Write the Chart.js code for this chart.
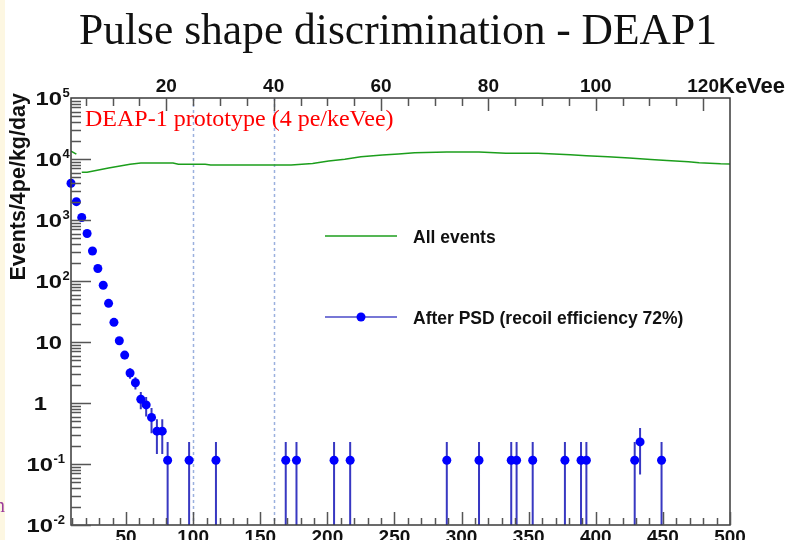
<!DOCTYPE html>
<html>
<head>
<meta charset="utf-8">
<title>Pulse shape discrimination - DEAP1</title>
<script src="https://cdn.jsdelivr.net/npm/chart.js@4.4.0/dist/chart.umd.min.js"></script>
<style>
  html, body { margin: 0; padding: 0; background: #fff; }
  #wrap { width: 787px; height: 540px; position: relative; }
</style>
</head>
<body>
<div id="wrap"><canvas id="psdChart" width="787" height="540"></canvas></div>
<script>
// ---- data ----
// x in photoelectrons (4 pe bins), y in events/4pe/kg/day
const psdPe   = [9, 13, 17, 21, 25, 29, 33, 37, 41, 45, 49, 53, 57, 61, 65, 69, 73, 77, 81,
                 97, 117, 169, 177, 205, 217, 289, 313, 337, 341, 353, 377, 389, 393, 429, 433, 449];
const psdRate = [4000, 2000, 1100, 600, 310, 160, 85, 43, 21, 10.5, 6.1, 3.1, 2.15, 1.15, 0.93, 0.58, 0.345, 0.345, 0.115,
                 0.115, 0.115, 0.115, 0.115, 0.115, 0.115, 0.115, 0.115, 0.115, 0.115, 0.115, 0.115, 0.115, 0.115, 0.115, 0.23, 0.115];
const psdErrLo = [3980, 1990, 1090, 592, 304, 156, 82, 41, 19.5, 9.4, 5.2, 2.5, 1.66, 0.79, 0.60, 0.32, 0.146, 0.146, 0,
                  0, 0, 0, 0, 0, 0, 0, 0, 0, 0, 0, 0, 0, 0, 0, 0.067, 0];
const psdErrHi = [4020, 2010, 1110, 608, 316, 164, 88, 45, 22.5, 11.6, 7.0, 3.7, 2.64, 1.51, 1.25, 0.83, 0.544, 0.544, 0.23,
                  0.23, 0.23, 0.23, 0.23, 0.23, 0.23, 0.23, 0.23, 0.23, 0.23, 0.23, 0.23, 0.23, 0.23, 0.23, 0.39, 0.23];

const allPe   = [9, 13, 15, 17, 21, 37, 53, 61, 85, 89, 109, 113, 141, 173, 189, 201, 213, 225, 241, 253,
                 265, 289, 313, 333, 357, 381, 393, 409, 425, 441, 453, 469, 477, 493, 500];
const allRate = [13500, 12000, null, 6050, 6050, 7100, 8200, 8600, 8600, 8200, 8200, 7950, 7950, 7950, 8450, 9300, 9950, 10900, 11600, 12100,
                 12700, 13000, 13000, 12400, 12400, 11750, 11300, 10900, 10350, 9850, 9450, 9000, 8650, 8350, 8300];

const peTicks     = [50, 100, 150, 200, 250, 300, 350, 400, 450, 500];
const keveeTicks  = [20, 40, 60, 80, 100, 120];
const decadeExps  = [-2, -1, 0, 1, 2, 3, 4, 5];
const cutLinesPe  = [100, 160];
const peMin = 9, peMax = 500;
const rateMin = 0.01, rateMax = 1e5;

const titleText = 'Pulse shape discrimination - DEAP1';
const noteText  = 'DEAP-1 prototype (4 pe/keVee)';
const yTitle    = 'Events/4pe/kg/day';
const topUnit   = 'KeVee';

const SANS = '"Liberation Sans", Arial, Helvetica, sans-serif';
const SERIF = '"Liberation Serif", "Times New Roman", serif';

function xy(xs, ys) {
  return xs.map((x, i) => ({ x: x, y: ys[i] }));
}

// draws text squeezed/stretched horizontally, right edge at x
function wideText(ctx, txt, x, y, sx) {
  ctx.save();
  ctx.translate(x, y);
  ctx.scale(sx, 1);
  ctx.textAlign = 'right';
  ctx.fillText(txt, 0, 0);
  ctx.restore();
}

const rootStyle = {
  id: 'rootStyle',
  beforeDraw(chart) {
    const { ctx, width, height } = chart;
    ctx.save();
    ctx.fillStyle = '#ffffff';
    ctx.fillRect(0, 0, width, height);
    ctx.fillStyle = '#fdf7e2';
    ctx.fillRect(0, 0, 5, height);
    ctx.fillStyle = '#9b3b9b';
    ctx.font = '20px ' + SERIF;
    ctx.textAlign = 'right';
    ctx.fillText('n', 5, 512);
    ctx.restore();
  },
  beforeDatasetsDraw(chart) {
    const { ctx, chartArea: a } = chart;
    const xs = chart.scales.x, ys = chart.scales.y;
    ctx.save();
    // cut lines
    ctx.strokeStyle = '#9ab0de';
    ctx.lineWidth = 1.5;
    ctx.setLineDash([3, 3]);
    cutLinesPe.forEach(v => {
      const px = Math.round(xs.getPixelForValue(v)) + 0.5;
      ctx.beginPath();
      ctx.moveTo(px, a.top);
      ctx.lineTo(px, a.bottom);
      ctx.stroke();
    });
    ctx.setLineDash([]);
    // error bars
    ctx.strokeStyle = '#3838c2';
    ctx.lineWidth = 2;
    ctx.beginPath();
    psdPe.forEach((pe, i) => {
      const px = xs.getPixelForValue(pe);
      const top = ys.getPixelForValue(psdErrHi[i]);
      const bot = psdErrLo[i] > rateMin ? ys.getPixelForValue(psdErrLo[i]) : a.bottom;
      ctx.moveTo(px, top);
      ctx.lineTo(px, bot);
    });
    ctx.stroke();
    ctx.restore();
  },
  afterDraw(chart) {
    const { ctx, chartArea: a } = chart;
    const xs = chart.scales.x, ys = chart.scales.y;
    ctx.save();

    // frame
    ctx.strokeStyle = '#3a3a3a';
    ctx.lineWidth = 1.5;
    ctx.strokeRect(a.left, a.top, a.right - a.left, a.bottom - a.top);

    // y ticks (inside)
    ctx.strokeStyle = '#555';
    ctx.lineWidth = 1.5;
    ctx.beginPath();
    for (let e = -2; e <= 4; e++) {
      for (let m = 1; m <= 9; m++) {
        const v = m * Math.pow(10, e);
        const py = Math.round(ys.getPixelForValue(v)) + 0.5;
        ctx.moveTo(a.left, py);
        ctx.lineTo(a.left + (m === 1 ? 20 : 10), py);
      }
    }
    ctx.stroke();

    // bottom ticks (pe)
    ctx.beginPath();
    for (let v = 10; v <= peMax; v += 10) {
      const px = Math.round(xs.getPixelForValue(v)) + 0.5;
      ctx.moveTo(px, a.bottom);
      ctx.lineTo(px, a.bottom - (v % 50 === 0 ? 13 : 7));
    }
    // top ticks (keVee, 4 pe per keVee)
    for (let k = 5; k < peMax / 4; k += 5) {
      const px = Math.round(xs.getPixelForValue(k * 4)) + 0.5;
      ctx.moveTo(px, a.top);
      ctx.lineTo(px, a.top + (k % 20 === 0 ? 13 : 8));
    }
    ctx.stroke();

    // tick labels
    ctx.fillStyle = '#111';
    ctx.font = 'bold 19px ' + SANS;
    ctx.textAlign = 'center';
    ctx.textBaseline = 'alphabetic';
    peTicks.forEach(v => ctx.fillText(String(v), xs.getPixelForValue(v), 543));
    keveeTicks.forEach(k => ctx.fillText(String(k), xs.getPixelForValue(k * 4), 92));
    ctx.textAlign = 'left';
    ctx.font = 'bold 22px ' + SANS;
    ctx.fillText(topUnit, 719, 93);

    decadeExps.forEach(e => {
      const py = ys.getPixelForValue(Math.pow(10, e)) + 7;
      ctx.font = 'bold 19px ' + SANS;
      if (e === 0) { wideText(ctx, '1', 47, py, 1.25); return; }
      if (e === 1) { wideText(ctx, '10', 62, py, 1.25); return; }
      const right = e < 0 ? 53 : 62;
      wideText(ctx, '10', right, py, 1.25);
      ctx.font = 'bold 13px ' + SANS;
      ctx.textAlign = 'left';
      ctx.fillText(String(e), right + 0.5, py - 8);
    });

    // y title
    ctx.save();
    ctx.translate(25, a.top - 5);
    ctx.rotate(-Math.PI / 2);
    ctx.font = 'bold 21.5px ' + SANS;
    ctx.textAlign = 'right';
    ctx.fillStyle = '#111';
    ctx.fillText(yTitle, 0, 0);
    ctx.restore();

    // title
    ctx.fillStyle = '#111';
    ctx.font = '43.5px ' + SERIF;
    ctx.textAlign = 'center';
    ctx.fillText(titleText, 398, 44);

    // note
    ctx.fillStyle = '#ff0000';
    ctx.font = '24px ' + SERIF;
    ctx.textAlign = 'left';
    ctx.fillText(noteText, 85, 126);

    // legend
    const ds = chart.data.datasets;
    const rows = [
      { d: ds[0], y: 236, marker: false },
      { d: ds[1], y: 317, marker: true }
    ];
    rows.forEach(r => {
      ctx.strokeStyle = r.marker ? '#4a4ac8' : r.d.borderColor;
      ctx.lineWidth = 1.5;
      ctx.beginPath();
      ctx.moveTo(325, r.y);
      ctx.lineTo(397, r.y);
      ctx.stroke();
      if (r.marker) {
        ctx.fillStyle = r.d.pointBackgroundColor;
        ctx.beginPath();
        ctx.arc(361, r.y, 4.5, 0, Math.PI * 2);
        ctx.fill();
      }
      ctx.fillStyle = '#111';
      ctx.font = 'bold 17.5px ' + SANS;
      ctx.textAlign = 'left';
      ctx.fillText(r.d.label, 413, r.y + 7);
    });

    ctx.restore();
  }
};

const ctx = document.getElementById('psdChart').getContext('2d');
const psdChart = new Chart(ctx, {
  type: 'scatter',
  data: {
    datasets: [
      {
        label: 'All events',
        data: xy(allPe, allRate),
        showLine: true,
        spanGaps: false,
        borderColor: '#1c9e1c',
        borderWidth: 1.5,
        pointRadius: 0,
        tension: 0
      },
      {
        label: 'After PSD (recoil efficiency 72%)',
        data: xy(psdPe, psdRate),
        showLine: false,
        clip: false,
        pointRadius: 4.5,
        pointBackgroundColor: '#0000ff',
        pointBorderColor: '#0000ff',
        pointBorderWidth: 0
      }
    ]
  },
  options: {
    responsive: false,
    animation: false,
    devicePixelRatio: 1,
    layout: { padding: { left: 71, top: 98, right: 57, bottom: 15 } },
    plugins: {
      legend: { display: false },
      tooltip: { enabled: false },
      title: { display: false }
    },
    scales: {
      x: { type: 'linear', min: peMin, max: peMax, display: false },
      y: { type: 'logarithmic', min: rateMin, max: rateMax, display: false }
    }
  },
  plugins: [rootStyle]
});
</script>
</body>
</html>
